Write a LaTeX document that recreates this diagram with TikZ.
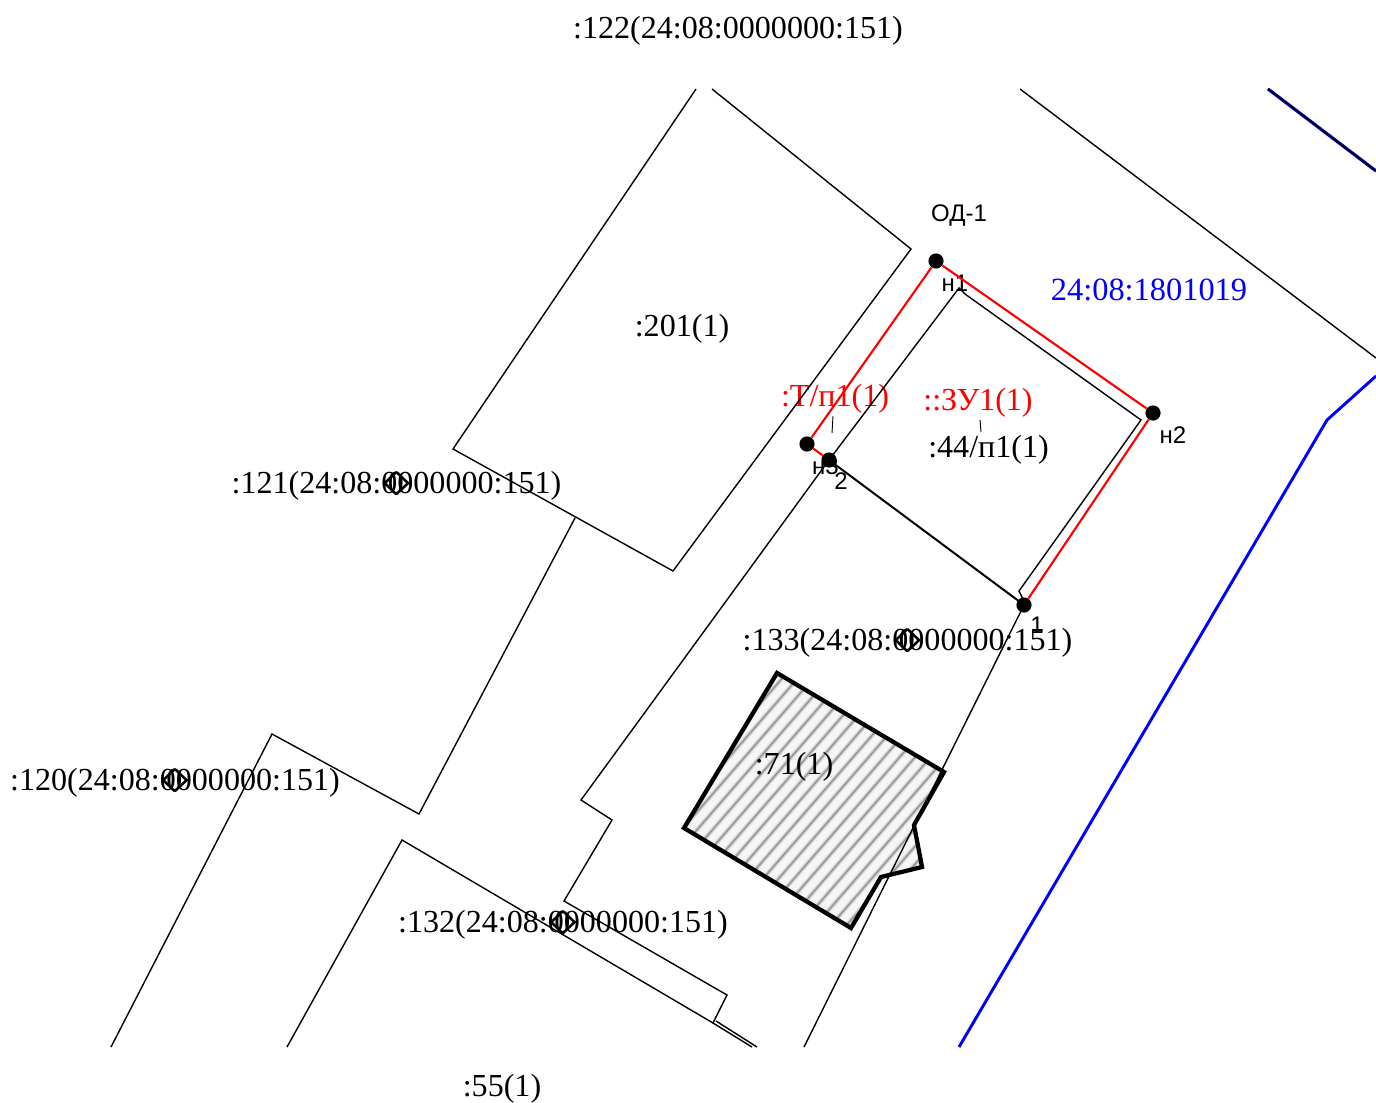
\documentclass[tikz,border=0pt]{standalone}
\usepackage{fontspec}
\setmainfont{Liberation Serif}
\newfontfamily\lblsans{Liberation Sans}
\newcommand{\ovz}{\rlap{\kern0.04em\raisebox{-0.07em}{\scalebox{1.75}[1.05]{\char"25CA}}}\rlap{\kern0.2em 0}}
\tikzset{
  lab/.style={font=\fontsize{24.05pt}{26pt}\selectfont,inner sep=0pt,text=black},
  redlab/.style={lab,text=red},
  bluelab/.style={lab,font=\fontsize{24.3pt}{26pt}\selectfont,text=blue},
  pt/.style={font=\lblsans\fontsize{18pt}{19pt}\selectfont,inner sep=0pt,text=black},
  dot/.style={circle,fill=black,draw=none,inner sep=0pt,minimum size=11.4pt},
  bound/.style={draw=black,line width=1.05pt,line join=miter},
  heavy/.style={draw=black,line width=1.5pt},
  redline/.style={draw=red,line width=1.6pt},
  blueline/.style={draw=blue,line width=2.2pt},
  dkline/.style={draw=blue,line width=2.4pt},
  thickb/.style={draw=black,line width=3.2pt,line join=miter},
  tick/.style={draw=black,line width=0.7pt}
}
\begin{document}
\begin{tikzpicture}[x=0.75pt,y=-0.75pt]
\useasboundingbox (0,0) rectangle (1376,1102);
% building outline coordinates
\coordinate (b1) at (777,673);
\coordinate (b2) at (944,772);
\coordinate (b3) at (914,825);
\coordinate (b4) at (922,867);
\coordinate (b5) at (881,877);
\coordinate (b6) at (851,928);
\coordinate (b7) at (684,828);
% hatch
\fill[gray!7] (b1)--(b2)--(b3)--(b4)--(b5)--(b6)--(b7)--cycle;
\begin{scope}
\clip (b1)--(b2)--(b3)--(b4)--(b5)--(b6)--(b7)--cycle;
\foreach \c in {1000,1015.5,...,1900}{
  \pgfmathsetmacro{\xa}{\c-565.2}
  \pgfmathsetmacro{\xb}{\c-826}
  \draw[gray!22,line width=3.6pt] (\xa,650) -- (\xb,950);
  \draw[gray!45,line width=2.2pt] (\xa,650) -- (\xb,950);
  \draw[gray!85,line width=0.9pt] (\xa,650) -- (\xb,950);
}
\end{scope}
% labels under the dots
\node[lab] (l122) at (738,30.5) {:122(24:08:0000000:151)};
\node[lab] (l201) at (682,328.5) {:201(1)};
\node[lab] (l121) at (396.5,485.5) {:121(24:08:\ovz0000000:151)};
\node[redlab] (ltp) at (835,398.5) {:Т/п1(1)};
\node[redlab] (lzu) at (978,402.5) {::ЗУ1(1)};
\node[lab] (l44) at (988.5,449.5) {:44/п1(1)};
\node[bluelab] (lq) at (1149,290) {24:08:1801019};
\node[lab] (l133) at (907.5,642.5) {:133(24:08:\ovz0000000:151)};
\node[lab] (l71) at (794,766.5) {:71(1)};
\node[lab] (l120) at (175,782.5) {:120(24:08:\ovz0000000:151)};
\node[lab] (l132) at (563,924.5) {:132(24:08:\ovz0000000:151)};
\node[lab] (l55) at (502,1088.5) {:55(1)};
\node[pt] (lod) at (959,216) {ОД-1};
\node[pt] (ln1) at (955,283) {н1};
\node[pt] (ln2) at (1173,435) {н2};
\node[pt] (ln3) at (825.5,466) {н3};
\node[pt] (l2) at (841,481) {2};
\node[pt] (l1) at (1037,625) {1};
% turning points
\node[dot] (n1) at (936,261) {};
\node[dot] (n2) at (1153,413) {};
\node[dot] (p1) at (1024,605) {};
\node[dot] (n3) at (807,444) {};
\node[dot] (p2) at (829,460) {};
% parcel 201
\draw[bound] (696,89) -- (453,449) -- (673,571) -- (911,249) -- (712,89);
% neighbouring boundaries
\draw[bound] (575,518) -- (419,814) -- (272,734) -- (111,1047);
\draw[bound] (1020,89) -- (1376,358);
\draw[bound] (287,1047) -- (402,840) -- (713,1023) -- (727,995) -- (564,901) -- (612,820) -- (581,800) -- (p2.center);
\draw[bound] (713,1023) -- (752,1047);
\draw[bound] (716,1021) -- (757,1047);
% parcel 44
\draw[bound] (p2.center) -- (959,288) -- (965,294) -- (1141,420) -- (1019,591) -- (1022,597) -- (p1.center);
\draw[heavy] (p1.center) -- (p2.center);
\draw[bound] (p1.center) -- (804,1047);
% blue lines
\draw[blueline] (1376,376) -- (1327,420) -- (959,1047);
\draw[dkline] (1268,89) -- (1376,171);
\draw[draw=black,line width=1.3pt] (1268,89) -- (1376,171);
% red boundary
\draw[redline] (p2) -- (n3) -- (n1) -- (n2) -- (p1);
% leader ticks
\coordinate (t1a) at (833,416); \coordinate (t1b) at (832,433);
\coordinate (t2a) at (980,420); \coordinate (t2b) at (981,432);
\draw[tick] (t1a) -- (t1b);
\draw[tick] (t2a) -- (t2b);
% building outline
\draw[thickb] (b1)--(b2)--(b3)--(b4)--(b5)--(b6)--(b7)--cycle;
\end{tikzpicture}
\end{document}
